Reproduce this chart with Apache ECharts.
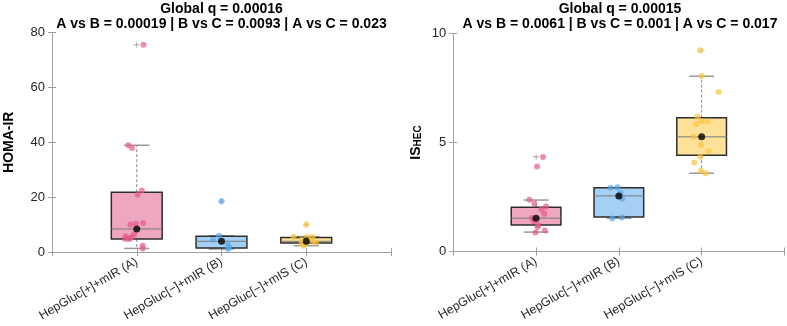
<!DOCTYPE html>
<html><head><meta charset="utf-8">
<script src="https://cdn.jsdelivr.net/npm/echarts@6/dist/echarts.min.js"></script>
<style>html,body{margin:0;padding:0;background:#fff}#c{width:787px;height:326px}</style>
</head><body><div id="c"></div><script>
// ---------- data ----------
const categories = ['HepGluc[+]+mIR (A)', 'HepGluc[\u2212]+mIR (B)', 'HepGluc[\u2212]+mIS (C)'];
const categoryPos = [1, 2, 3];
const homaTicks = [0, 20, 40, 60, 80];
const isTicks = [0, 5, 10];
const leftTitle = 'Global q = 0.00016\nA vs B = 0.00019 | B vs C = 0.0093 | A vs C = 0.023';
const rightTitle = 'Global q = 0.00015\nA vs B = 0.0061 | B vs C = 0.001 | A vs C = 0.017';

// box stats: [lower whisker, Q1, median, Q3, upper whisker]
const homaBoxA = [1.3, 4.7, 8.4, 21.8, 38.9];
const homaBoxB = [1.1, 1.45, 3.9, 5.7, 5.9];
const homaBoxC = [2.3, 3.3, 3.9, 5.3, 5.6];
const homaOutA = [75.5];
const homaOutB = [18.5];
const homaOutC = [10.0];
const homaA = [75.5, 38.9, 37.9, 22.4, 20.9, 10.0, 10.4, 10.6, 6.5, 5.5, 5.7, 4.7, 4.8, 4.9, 2.3, 1.3];
const homaAJit = [0.08, -0.10, -0.055, 0.06, 0.01, -0.075, -0.01, 0.075, -0.03, -0.06, -0.13, -0.10, -0.14, -0.08, 0.07, 0.07];
const homaB = [18.5, 5.9, 4.5, 3.1, 1.7, 1.1];
const homaBJit = [0, -0.03, -0.10, 0.07, 0.095, 0.075];
const homaC = [10.0, 5.6, 4.5, 5.5, 5.5, 3.9, 3.0, 3.3, 2.3, 3.5];
const homaCJit = [0, -0.15, -0.055, 0.01, 0.075, 0.08, -0.055, 0.005, -0.03, 0.115];

const isBoxA = [0.89, 1.21, 1.53, 2.03, 2.36];
const isBoxB = [1.53, 1.58, 2.55, 2.93, 2.93];
const isBoxC = [3.59, 4.42, 5.26, 6.14, 8.04];
const isOutA = [4.34];
const isOutB = [];
const isOutC = [9.21];
const isA = [4.34, 3.9, 2.37, 2.19, 2.06, 1.94, 1.73, 1.54, 1.39, 1.22, 1.12, 0.96, 0.87];
const isAJit = [0.084, 0.012, -0.08, -0.02, 0.12, 0.065, 0.10, -0.048, -0.028, 0.024, 0.02, 0.105, -0.007];
const isB = [2.93, 2.95, 2.68, 2.42, 1.51, 1.56];
const isBJit = [-0.10, -0.017, 0.02, 0.04, -0.08, 0.036];
const isC = [9.23, 8.05, 7.32, 6.19, 5.85, 5.97, 5.96, 5.26, 4.89, 4.6, 4.35, 4.08, 3.7, 3.59];
const isCJit = [-0.02, 0, 0.205, -0.05, -0.065, 0, 0.072, -0.096, -0.008, 0.084, -0.016, -0.088, -0.008, 0.048];

// ---------- style ----------
const FONT = 'Liberation Sans, Arial, sans-serif';
const boxFills = ['#EFA6C1', '#A6CFF4', '#FDE198'];
const dotColors = ['rgba(227,88,138,0.85)', 'rgba(86,165,233,0.85)', 'rgba(249,198,56,0.85)'];
const AXC = '#a0a0a0';

function boxRender(params, api) {
  const x = api.value(0);
  const lo = api.coord([x, api.value(1)]);
  const q1 = api.coord([x, api.value(2)]);
  const md = api.coord([x, api.value(3)]);
  const q3 = api.coord([x, api.value(4)]);
  const hi = api.coord([x, api.value(5)]);
  const hw = api.size([0.3, 0])[0];
  const cw = api.size([0.15, 0])[0];
  const cx = md[0];
  const fill = boxFills[params.dataIndex];
  return {
    type: 'group',
    children: [
      { type: 'line', shape: { x1: cx, y1: q1[1], x2: cx, y2: lo[1] }, style: { stroke: '#8a8a8a', lineWidth: 1, lineDash: [3, 2] } },
      { type: 'line', shape: { x1: cx, y1: q3[1], x2: cx, y2: hi[1] }, style: { stroke: '#8a8a8a', lineWidth: 1, lineDash: [3, 2] } },
      { type: 'line', shape: { x1: cx - cw, y1: lo[1], x2: cx + cw, y2: lo[1] }, style: { stroke: '#9a9a9a', lineWidth: 1.5 } },
      { type: 'line', shape: { x1: cx - cw, y1: hi[1], x2: cx + cw, y2: hi[1] }, style: { stroke: '#9a9a9a', lineWidth: 1.5 } },
      { type: 'rect', shape: { x: cx - hw, y: q3[1], width: 2 * hw, height: q1[1] - q3[1] }, style: { fill: fill, stroke: '#2e2e2e', lineWidth: 1.5 } },
      { type: 'line', shape: { x1: cx - hw, y1: md[1], x2: cx + hw, y2: md[1] }, style: { stroke: '#7a7a7a', lineWidth: 1 } }
    ]
  };
}

function panelSeries(ax, boxes, outs, vals, jits) {
  const s = [];
  s.push({
    type: 'custom', xAxisIndex: ax, yAxisIndex: ax, renderItem: boxRender, silent: true,
    data: boxes.map((b, i) => [categoryPos[i]].concat(b))
  });
  const outData = [];
  outs.forEach((o, i) => o.forEach(v => outData.push([categoryPos[i], v])));
  s.push({
    type: 'scatter', xAxisIndex: ax, yAxisIndex: ax, silent: true,
    symbol: 'path://M4.5,0H5.5V4.5H10V5.5H5.5V10H4.5V5.5H0V4.5H4.5Z', symbolSize: 6,
    itemStyle: { color: '#666' }, data: outData
  });
  vals.forEach((arr, g) => {
    s.push({
      type: 'scatter', xAxisIndex: ax, yAxisIndex: ax, silent: true, symbolSize: 6,
      itemStyle: { color: dotColors[g] },
      data: arr.map((v, i) => [categoryPos[g] + jits[g][i], v])
    });
  });
  s.push({
    type: 'scatter', xAxisIndex: ax, yAxisIndex: ax, silent: true, symbolSize: 7,
    itemStyle: { color: '#000' },
    data: boxes.map((b, i) => [categoryPos[i], b[2]])
  });
  return s;
}

function xAxes(grid) {
  return [
    {
      type: 'value', gridIndex: grid, min: 0, max: 4, interval: 1, position: 'bottom',
      axisLine: { show: true, lineStyle: { color: AXC, width: 1 } },
      axisTick: { show: true, inside: true, length: 4, lineStyle: { color: AXC } },
      splitLine: { show: false },
      axisLabel: {
        rotate: 30, margin: 9, fontSize: 12.3, color: '#262626', fontFamily: FONT,
        formatter: v => { const i = categoryPos.indexOf(v); return i >= 0 ? categories[i] : ''; }
      }
    },
    {
      type: 'value', gridIndex: grid, min: 0, max: 4, interval: 1, position: 'top',
      axisLine: { show: true, lineStyle: { color: AXC, width: 1 } },
      axisTick: { show: true, inside: true, length: 4, lineStyle: { color: AXC } },
      splitLine: { show: false }, axisLabel: { show: false }
    }
  ];
}

function yAxes(grid, ticks, name, nameGap) {
  const mn = ticks[0], mx = ticks[ticks.length - 1], iv = ticks[1] - ticks[0];
  return [
    {
      type: 'value', gridIndex: grid, min: mn, max: mx, interval: iv, position: 'left',
      name: name, nameLocation: 'middle', nameGap: nameGap,
      nameTextStyle: {
        fontSize: 14, fontWeight: 'bold', color: '#000', fontFamily: FONT,
        rich: {
          m: { fontSize: 14, fontWeight: 'bold', color: '#000', fontFamily: FONT, lineHeight: 14, verticalAlign: 'top' },
          s: { fontSize: 10, fontWeight: 'bold', color: '#000', fontFamily: FONT, lineHeight: 10, verticalAlign: 'bottom', padding: [8, 0, 0, 0] }
        }
      },
      axisLine: { show: true, lineStyle: { color: AXC, width: 1 } },
      axisTick: { show: true, inside: true, length: 4, lineStyle: { color: AXC } },
      splitLine: { show: false },
      axisLabel: { margin: 7, fontSize: 13, color: '#262626', fontFamily: FONT }
    },
    {
      type: 'value', gridIndex: grid, min: mn, max: mx, interval: iv, position: 'right',
      axisLine: { show: true, lineStyle: { color: AXC, width: 1 } },
      axisTick: { show: true, inside: true, length: 4, lineStyle: { color: AXC } },
      splitLine: { show: false }, axisLabel: { show: false }
    }
  ];
}

const chart = echarts.init(document.getElementById('c'), null, { renderer: 'canvas' });
const titleStyle = { fontSize: 14, fontWeight: 'bold', color: '#000', fontFamily: FONT, lineHeight: 15 };
chart.setOption({
  animation: false,
  backgroundColor: '#fff',
  title: [
    { text: leftTitle, left: 221.5, top: 2, textAlign: 'center', textStyle: titleStyle, padding: 0 },
    { text: rightTitle, left: 620, top: 2, textAlign: 'center', textStyle: titleStyle, padding: 0 }
  ],
  grid: [
    { left: 52, top: 32.5, width: 339, height: 219.5 },
    { left: 453.3, top: 33.5, width: 332, height: 218 }
  ],
  xAxis: xAxes(0).concat(xAxes(1)),
  yAxis: yAxes(0, homaTicks, 'HOMA-IR', 36).concat(yAxes(1, isTicks, '{m|IS}{s|HEC}', 30)),
  series: [].concat(
    panelSeries(0, [homaBoxA, homaBoxB, homaBoxC], [homaOutA, homaOutB, homaOutC], [homaA, homaB, homaC], [homaAJit, homaBJit, homaCJit]),
    panelSeries(2, [isBoxA, isBoxB, isBoxC], [isOutA, isOutB, isOutC], [isA, isB, isC], [isAJit, isBJit, isCJit])
  )
});
</script></body></html>
